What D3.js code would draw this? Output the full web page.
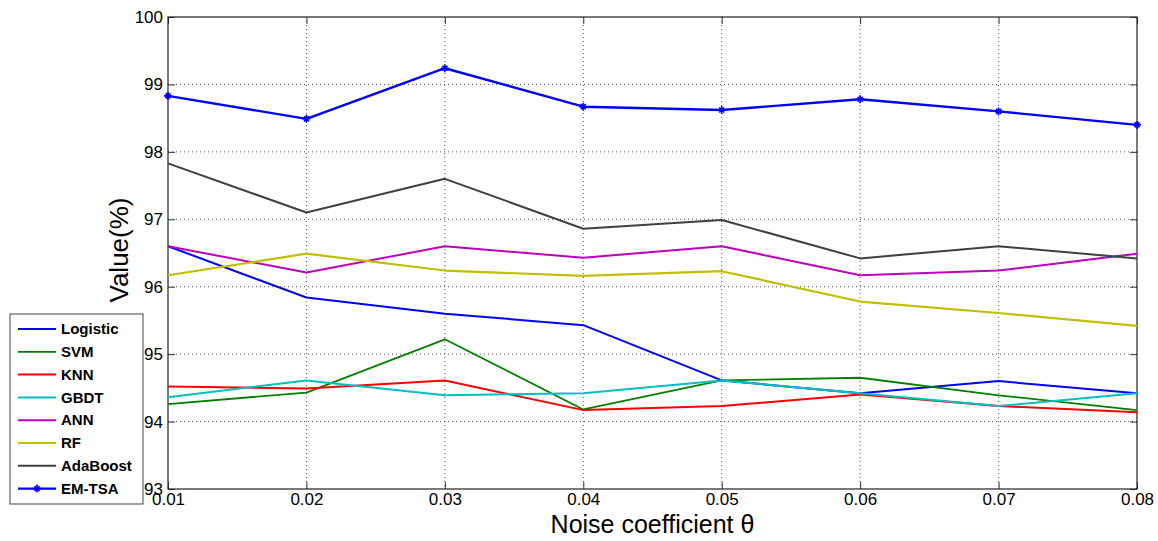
<!DOCTYPE html>
<html>
<head>
<meta charset="utf-8">
<script src="https://cdn.jsdelivr.net/npm/d3@7"></script>
<style>
  body { margin: 0; background: #fff; }
  text { font-family: Arial, "Liberation Sans", sans-serif; }
</style>
</head>
<body>
<div id="chart"></div>
<script>
// noise coefficient values on the x axis
var noise = [0.01, 0.02, 0.03, 0.04, 0.05, 0.06, 0.07, 0.08];
var xTicks = noise;
var yTicks = [93, 94, 95, 96, 97, 98, 99, 100];

var logistic = [96.60, 95.84, 95.60, 95.43, 94.61, 94.42, 94.60, 94.42];
var svm      = [94.26, 94.43, 95.22, 94.18, 94.61, 94.65, 94.39, 94.17];
var knn      = [94.52, 94.49, 94.61, 94.17, 94.23, 94.40, 94.23, 94.14];
var gbdt     = [94.36, 94.61, 94.39, 94.42, 94.61, 94.42, 94.23, 94.42];
var ann      = [96.60, 96.21, 96.60, 96.43, 96.60, 96.17, 96.24, 96.49];
var rf       = [96.17, 96.49, 96.24, 96.16, 96.23, 95.78, 95.61, 95.42];
var adaboost = [97.83, 97.10, 97.60, 96.86, 96.99, 96.42, 96.60, 96.42];
var emtsa    = [98.83, 98.49, 99.24, 98.67, 98.62, 98.78, 98.60, 98.40];

var series = [
    {name: "Logistic", values: logistic, color: "#0000ff", width: 2},
    {name: "SVM", values: svm, color: "#008000", width: 1.8},
    {name: "KNN", values: knn, color: "#ff0000", width: 2},
    {name: "GBDT", values: gbdt, color: "#00bfbf", width: 2},
    {name: "ANN", values: ann, color: "#bf00bf", width: 2},
    {name: "RF", values: rf, color: "#bfbf00", width: 2.2},
    {name: "AdaBoost", values: adaboost, color: "#404040", width: 2},
    {name: "EM-TSA", values: emtsa, color: "#0000ff", width: 2.4, marker: true}
];

var W = 1158, H = 541;
var margin = {left: 168, right: 21, top: 17, bottom: 52};
var width = W - margin.left - margin.right;
var height = H - margin.top - margin.bottom;

var svg = d3.select("#chart").append("svg")
    .attr("width", W)
    .attr("height", H);

var g = svg.append("g")
    .attr("transform", "translate(" + margin.left + "," + margin.top + ")");

var x = d3.scaleLinear().domain([0.01, 0.08]).range([0, width]);
var y = d3.scaleLinear().domain([93, 100]).range([height, 0]);

// dotted grid
g.append("g").selectAll("line")
    .data(xTicks.slice(1, -1))
    .enter().append("line")
    .attr("x1", function (d) { return x(d); })
    .attr("x2", function (d) { return x(d); })
    .attr("y1", 0).attr("y2", height)
    .attr("stroke", "#555").attr("stroke-width", 1)
    .attr("stroke-dasharray", "1,3");

g.append("g").selectAll("line")
    .data(yTicks.slice(1, -1))
    .enter().append("line")
    .attr("y1", function (d) { return y(d); })
    .attr("y2", function (d) { return y(d); })
    .attr("x1", 0).attr("x2", width)
    .attr("stroke", "#555").attr("stroke-width", 1)
    .attr("stroke-dasharray", "1,3");

// axes with inward ticks
var xAxis = g.append("g")
    .attr("transform", "translate(0," + height + ")")
    .call(d3.axisBottom(x).tickValues(xTicks).tickFormat(d3.format(".2f")).tickSizeInner(-7).tickSizeOuter(0).tickPadding(6));
xAxis.selectAll("text").attr("font-size", 17).attr("fill", "#000").attr("dy", "0.6em");

var yAxis = g.append("g")
    .call(d3.axisLeft(y).tickValues(yTicks).tickFormat(d3.format("d")).tickSizeInner(-7).tickSizeOuter(0).tickPadding(5));
yAxis.selectAll("text").attr("font-size", 17).attr("fill", "#000");

g.append("g")
    .call(d3.axisTop(x).tickValues(xTicks).tickFormat("").tickSizeInner(-7).tickSizeOuter(0));
g.append("g")
    .attr("transform", "translate(" + width + ",0)")
    .call(d3.axisRight(y).tickValues(yTicks).tickFormat("").tickSizeInner(-7).tickSizeOuter(0));

g.selectAll(".domain").remove();
g.selectAll(".tick line").attr("stroke", "#333");

g.append("rect")
    .attr("width", width).attr("height", height)
    .attr("fill", "none").attr("stroke", "#222").attr("stroke-width", 1.2);

// lines
var line = d3.line()
    .x(function (d, i) { return x(noise[i]); })
    .y(function (d) { return y(d); });

function drawStar(sel, cx, cy, color) {
    var r = 4, q = 2.5;
    sel.append("path")
        .attr("d", "M" + (cx - r) + "," + cy + "H" + (cx + r) +
            "M" + cx + "," + (cy - r) + "V" + (cy + r) +
            "M" + (cx - q) + "," + (cy - q) + "L" + (cx + q) + "," + (cy + q) +
            "M" + (cx - q) + "," + (cy + q) + "L" + (cx + q) + "," + (cy - q))
        .attr("stroke", color).attr("stroke-width", 1.6).attr("fill", "none");
}

series.forEach(function (s) {
    g.append("path")
        .datum(s.values)
        .attr("d", line)
        .attr("fill", "none")
        .attr("stroke", s.color)
        .attr("stroke-width", s.width)
        .attr("stroke-linejoin", "round");
    if (s.marker) {
        s.values.forEach(function (v, i) {
            drawStar(g, x(noise[i]), y(v), s.color);
        });
    }
});

// axis labels
svg.append("text")
    .attr("transform", "translate(128," + 250 + ") rotate(-90)")
    .attr("text-anchor", "middle")
    .attr("font-size", 26)
    .text("Value(%)");

svg.append("text")
    .attr("x", margin.left + width / 2)
    .attr("y", 533)
    .attr("text-anchor", "middle")
    .attr("font-size", 25)
    .text("Noise coefficient θ");

// legend
var legend = svg.append("g").attr("transform", "translate(10,314)");
legend.append("rect")
    .attr("width", 133).attr("height", 190)
    .attr("fill", "#fff").attr("stroke", "#444").attr("stroke-width", 1);

series.forEach(function (s, i) {
    var ly = 15 + i * 22.8;
    legend.append("line")
        .attr("x1", 8).attr("x2", 46)
        .attr("y1", ly).attr("y2", ly)
        .attr("stroke", s.color).attr("stroke-width", s.width);
    if (s.marker) drawStar(legend, 27, ly, s.color);
    legend.append("text")
        .attr("x", 51).attr("y", ly)
        .attr("dy", "0.35em")
        .attr("font-size", 15)
        .attr("font-weight", "bold")
        .text(s.name);
});
</script>
</body>
</html>
